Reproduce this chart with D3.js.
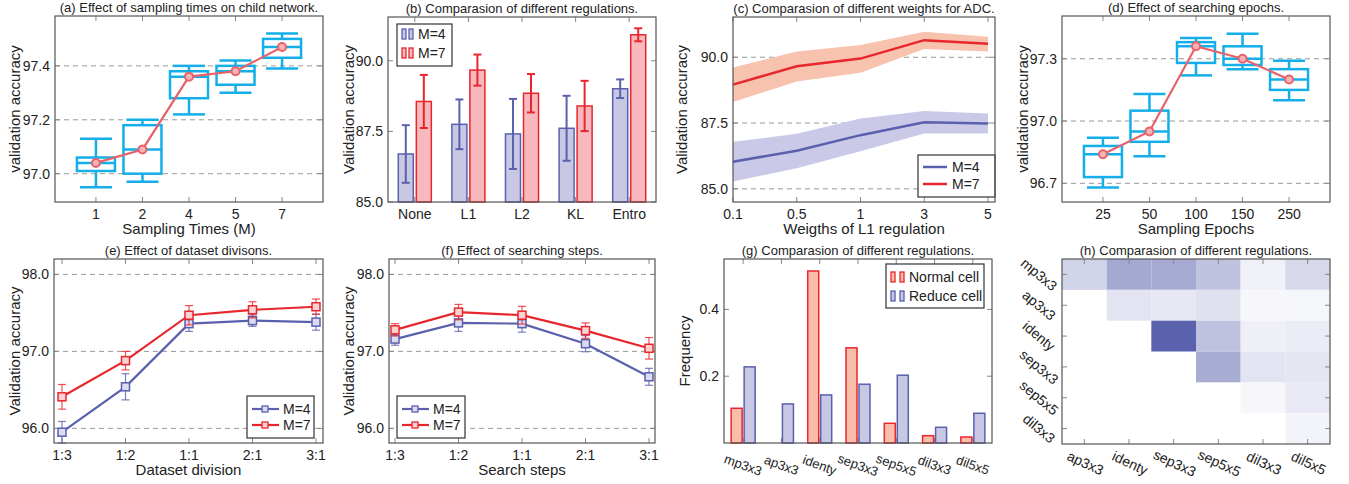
<!DOCTYPE html>
<html>
<head>
<meta charset="utf-8">
<script src="https://cdn.jsdelivr.net/npm/d3@7"></script>
<style>
body { margin: 0; background: #fff; }
text { font-family: "Liberation Sans", Arial, sans-serif; fill: #222; }
</style>
</head>
<body>
<svg width="1349" height="484"></svg>
<script>
// ---------- data ----------
// (a) sampling times
var samplingTimes = ["1", "2", "4", "5", "7"];
var samplingLow = [96.95, 96.97, 97.22, 97.30, 97.39];
var samplingQ1 = [97.01, 97.00, 97.28, 97.33, 97.43];
var samplingMedian = [97.04, 97.09, 97.36, 97.38, 97.47];
var samplingQ3 = [97.06, 97.18, 97.38, 97.40, 97.50];
var samplingHigh = [97.13, 97.20, 97.40, 97.42, 97.52];
var samplingMean = [97.04, 97.09, 97.36, 97.38, 97.47];

// (b) regulations
var regulations = ["None", "L1", "L2", "KL", "Entro"];
var regM4 = [86.70, 87.75, 87.41, 87.61, 89.01];
var regM4Err = [1.02, 0.88, 1.24, 1.15, 0.33];
var regM7 = [88.56, 89.67, 88.85, 88.40, 90.92];
var regM7Err = [0.94, 0.55, 0.68, 0.89, 0.23];

// (c) weights for ADC
var weights = ["0.1", "0.5", "1", "3", "5"];
var weightM4 = [86.03, 86.45, 87.04, 87.53, 87.48];
var weightM4Lo = [85.28, 85.78, 86.43, 87.10, 87.10];
var weightM4Hi = [86.79, 87.09, 87.67, 87.96, 87.86];
var weightM7 = [88.96, 89.66, 89.95, 90.65, 90.51];
var weightM7Lo = [88.30, 89.08, 89.41, 90.31, 90.22];
var weightM7Hi = [89.61, 90.22, 90.47, 90.97, 90.78];

// (d) searching epochs
var epochs = ["25", "50", "100", "150", "250"];
var epochLow = [96.68, 96.83, 97.22, 97.25, 97.10];
var epochQ1 = [96.73, 96.90, 97.28, 97.27, 97.15];
var epochMedian = [96.84, 96.95, 97.36, 97.30, 97.20];
var epochQ3 = [96.88, 97.05, 97.38, 97.36, 97.25];
var epochHigh = [96.92, 97.13, 97.40, 97.42, 97.29];
var epochMean = [96.84, 96.95, 97.36, 97.30, 97.20];

// (e) dataset divisions
var divisions = ["1:3", "1:2", "1:1", "2:1", "3:1"];
var divM4 = [95.95, 96.54, 97.36, 97.40, 97.38];
var divM4Err = [0.14, 0.17, 0.10, 0.075, 0.105];
var divM7 = [96.41, 96.88, 97.47, 97.54, 97.58];
var divM7Err = [0.16, 0.12, 0.125, 0.105, 0.10];

// (f) searching steps
var steps = ["1:3", "1:2", "1:1", "2:1", "3:1"];
var stepM4 = [97.16, 97.37, 97.36, 97.10, 96.67];
var stepM4Err = [0.08, 0.11, 0.11, 0.105, 0.11];
var stepM7 = [97.28, 97.51, 97.47, 97.27, 97.04];
var stepM7Err = [0.08, 0.10, 0.115, 0.10, 0.14];

// (g) operation frequency
var operations = ["mp3x3", "ap3x3", "identy", "sep3x3", "sep5x5", "dil3x3", "dil5x5"];
var normalFreq = [0.104, 0.0, 0.515, 0.285, 0.059, 0.022, 0.018];
var reduceFreq = [0.228, 0.117, 0.144, 0.176, 0.203, 0.047, 0.089];

// (h) co-occurrence
var heatCols = ["ap3x3", "identy", "sep3x3", "sep5x5", "dil3x3", "dil5x5"];
var heatRows = ["mp3x3", "ap3x3", "identy", "sep3x3", "sep5x5", "dil3x3"];
var heatValues = [
  [0.28, 0.55, 0.54, 0.38, 0.09, 0.24],
  [null, 0.17, 0.15, 0.19, 0.05, 0.06],
  [null, null, 1.00, 0.39, 0.10, 0.12],
  [null, null, null, 0.52, 0.17, 0.16],
  [null, null, null, null, 0.05, 0.14],
  [null, null, null, null, null, 0.07]
];

// ---------- style ----------
var svg = d3.select("svg");
var frameColor = "#555";
var tickColor = "#888";
var gridColor = "#999";
var boxBlue = "#14aee8";
var meanRed = "#e8626a";
var blueLine = "#5a60ae";
var blueFill = "#c8c8e5";
var redLine = "#e8262d";
var redFill = "#f7b9bd";
var peachFill = "#f9bea9";

function panel(left, right, top, bottom, title) {
  var p = { left: left, right: right, top: top, bottom: bottom };
  p.g = svg.append("g");
  p.g.append("text")
    .attr("x", (left + right) / 2)
    .attr("y", top - 4)
    .attr("text-anchor", "middle")
    .attr("font-size", 13)
    .text(title);
  return p;
}

function frame(p) {
  p.g.append("rect")
    .attr("x", p.left).attr("y", p.top)
    .attr("width", p.right - p.left).attr("height", p.bottom - p.top)
    .attr("fill", "none").attr("stroke", frameColor).attr("stroke-width", 1.2);
}

function yAxis(p, y, values, fmt, grid) {
  values.forEach(function (v) {
    var yy = y(v);
    if (grid) {
      p.g.append("line")
        .attr("x1", p.left).attr("x2", p.right).attr("y1", yy).attr("y2", yy)
        .attr("stroke", gridColor).attr("stroke-dasharray", "5,4");
    }
    p.g.append("line").attr("x1", p.left).attr("x2", p.left + 5).attr("y1", yy).attr("y2", yy)
      .attr("stroke", tickColor);
    p.g.append("line").attr("x1", p.right - 5).attr("x2", p.right).attr("y1", yy).attr("y2", yy)
      .attr("stroke", tickColor);
    p.g.append("text")
      .attr("x", p.left - 5).attr("y", yy)
      .attr("dy", "0.35em").attr("text-anchor", "end").attr("font-size", 14)
      .text(fmt(v));
  });
}

function xAxis(p, positions, labels, noLabels) {
  positions.forEach(function (xx, i) {
    p.g.append("line").attr("x1", xx).attr("x2", xx).attr("y1", p.bottom - 5).attr("y2", p.bottom)
      .attr("stroke", tickColor);
    p.g.append("line").attr("x1", xx).attr("x2", xx).attr("y1", p.top).attr("y2", p.top + 5)
      .attr("stroke", tickColor);
    if (!noLabels) {
      p.g.append("text")
        .attr("x", xx).attr("y", p.bottom + 17)
        .attr("text-anchor", "middle").attr("font-size", 14)
        .text(labels[i]);
    }
  });
}

function axisTitles(p, xLabel, yLabel, yLabelX) {
  if (xLabel) {
    p.g.append("text")
      .attr("x", (p.left + p.right) / 2).attr("y", p.bottom + 32)
      .attr("text-anchor", "middle").attr("font-size", 15)
      .text(xLabel);
  }
  p.g.append("text")
    .attr("transform", "translate(" + yLabelX + "," + (p.top + p.bottom) / 2 + ") rotate(-90)")
    .attr("text-anchor", "middle").attr("dy", "0.35em").attr("font-size", 15)
    .text(yLabel);
}

function legendBox(p, x, y, w, h) {
  p.g.append("rect").attr("x", x).attr("y", y).attr("width", w).attr("height", h)
    .attr("fill", "#fff").attr("stroke", "#333").attr("stroke-width", 1.2);
}

function legendText(p, x, y, label) {
  p.g.append("text").attr("x", x).attr("y", y).attr("dy", "0.35em")
    .attr("font-size", 14).text(label);
}

// box plot + mean line, used by (a) and (d)
function boxPanel(p, cats, low, q1, med, q3, high, mean, y) {
  var x = d3.scalePoint().domain(cats).range([p.left, p.right]).padding(0.88);
  var bw = 38, cw = 32;
  cats.forEach(function (c, i) {
    var cx = x(c);
    var g = p.g.append("g").attr("stroke", boxBlue).attr("stroke-width", 2.5).attr("fill", "none");
    g.append("line").attr("x1", cx).attr("x2", cx).attr("y1", y(high[i])).attr("y2", y(q3[i]));
    g.append("line").attr("x1", cx).attr("x2", cx).attr("y1", y(q1[i])).attr("y2", y(low[i]));
    g.append("line").attr("x1", cx - cw / 2).attr("x2", cx + cw / 2).attr("y1", y(high[i])).attr("y2", y(high[i]));
    g.append("line").attr("x1", cx - cw / 2).attr("x2", cx + cw / 2).attr("y1", y(low[i])).attr("y2", y(low[i]));
    g.append("rect").attr("x", cx - bw / 2).attr("y", y(q3[i]))
      .attr("width", bw).attr("height", y(q1[i]) - y(q3[i]));
    g.append("line").attr("x1", cx - bw / 2).attr("x2", cx + bw / 2).attr("y1", y(med[i])).attr("y2", y(med[i]));
  });
  var line = d3.line().x(function (d, i) { return x(cats[i]); }).y(function (d) { return y(d); });
  p.g.append("path").datum(mean).attr("d", line)
    .attr("fill", "none").attr("stroke", meanRed).attr("stroke-width", 2.2);
  p.g.selectAll(null).data(mean).join("circle")
    .attr("cx", function (d, i) { return x(cats[i]); })
    .attr("cy", function (d) { return y(d); })
    .attr("r", 4).attr("fill", "#f7b3b6").attr("stroke", meanRed).attr("stroke-width", 2);
  return x;
}

// ---------- (a) ----------
var pa = panel(55, 323, 16, 202, "(a) Effect of sampling times on child network.");
var ya = d3.scaleLinear().domain([96.895, 97.585]).range([202, 16]);
yAxis(pa, ya, [97.0, 97.2, 97.4], d3.format(".1f"), true);
var xa = d3.scalePoint().domain(samplingTimes).range([55, 323]).padding(0.88);
xAxis(pa, samplingTimes.map(function (c) { return xa(c); }), samplingTimes);
boxPanel(pa, samplingTimes, samplingLow, samplingQ1, samplingMedian, samplingQ3, samplingHigh, samplingMean, ya);
axisTitles(pa, "Sampling Times (M)", "validation accuracy", 15);
frame(pa);

// ---------- (b) ----------
var pb = panel(388, 656, 17, 202, "(b) Comparasion of different regulations.");
var yb = d3.scaleLinear().domain([85.0, 91.55]).range([202, 17]);
var xb = d3.scaleBand().domain(regulations).range([388, 656]);
var xbInner = d3.scaleBand().domain(["M=4", "M=7"]).range([0, xb.bandwidth()])
  .paddingInner(0.167).paddingOuter(0.57);
yAxis(pb, yb, [85.0, 87.5, 90.0], d3.format(".1f"), false);
xAxis(pb, regulations.map(function (c) { return xb(c) + xb.bandwidth() / 2; }), regulations);
var bSeries = [
  { key: "M=4", vals: regM4, errs: regM4Err, line: blueLine, fill: blueFill },
  { key: "M=7", vals: regM7, errs: regM7Err, line: redLine, fill: redFill }
];
bSeries.forEach(function (s) {
  regulations.forEach(function (c, i) {
    var bx = xb(c) + xbInner(s.key);
    pb.g.append("rect")
      .attr("x", bx).attr("y", yb(s.vals[i]))
      .attr("width", xbInner.bandwidth()).attr("height", yb(85) - yb(s.vals[i]))
      .attr("fill", s.fill).attr("stroke", s.line).attr("stroke-width", 1.5);
  });
});
bSeries.forEach(function (s) {
  regulations.forEach(function (c, i) {
    var cx = xb(c) + xbInner(s.key) + xbInner.bandwidth() / 2;
    var g = pb.g.append("g").attr("stroke", s.line).attr("stroke-width", 2);
    g.append("line").attr("x1", cx).attr("x2", cx)
      .attr("y1", yb(s.vals[i] + s.errs[i])).attr("y2", yb(s.vals[i] - s.errs[i]));
    g.append("line").attr("x1", cx - 4).attr("x2", cx + 4)
      .attr("y1", yb(s.vals[i] + s.errs[i])).attr("y2", yb(s.vals[i] + s.errs[i]));
    g.append("line").attr("x1", cx - 4).attr("x2", cx + 4)
      .attr("y1", yb(s.vals[i] - s.errs[i])).attr("y2", yb(s.vals[i] - s.errs[i]));
  });
});
legendBox(pb, 397, 24, 55, 42);
bSeries.forEach(function (s, i) {
  var ly = 34 + i * 19;
  [402, 409].forEach(function (lx) {
    pb.g.append("rect").attr("x", lx).attr("y", ly - 5).attr("width", 4).attr("height", 10)
      .attr("fill", s.fill).attr("stroke", s.line).attr("stroke-width", 1.3);
  });
  legendText(pb, 418, ly, s.key);
});
axisTitles(pb, null, "Validation accuracy", 349);
frame(pb);

// ---------- (c) ----------
var pc = panel(733, 995, 17, 202, "(c) Comparasion of different weights for ADC.");
var yc = d3.scaleLinear().domain([84.5, 91.53]).range([202, 17]);
var xc = d3.scalePoint().domain(weights).range([733, 988]);
yAxis(pc, yc, [85.0, 87.5, 90.0], d3.format(".1f"), true);
xAxis(pc, weights.map(function (c) { return xc(c); }), weights);
var cSeries = [
  { key: "M=4", mid: weightM4, lo: weightM4Lo, hi: weightM4Hi, line: blueLine, fill: "#cacae8" },
  { key: "M=7", mid: weightM7, lo: weightM7Lo, hi: weightM7Hi, line: redLine, fill: "#f8c3ae" }
];
cSeries.forEach(function (s) {
  var area = d3.area()
    .x(function (d, i) { return xc(weights[i]); })
    .y0(function (d, i) { return yc(s.lo[i]); })
    .y1(function (d, i) { return yc(s.hi[i]); });
  pc.g.append("path").datum(s.mid).attr("d", area).attr("fill", s.fill);
  var line = d3.line().x(function (d, i) { return xc(weights[i]); }).y(function (d) { return yc(d); });
  pc.g.append("path").datum(s.mid).attr("d", line)
    .attr("fill", "none").attr("stroke", s.line).attr("stroke-width", 2.5);
});
legendBox(pc, 918, 155, 77, 42);
cSeries.forEach(function (s, i) {
  var ly = 167 + i * 17;
  pc.g.append("line").attr("x1", 923).attr("x2", 947).attr("y1", ly).attr("y2", ly)
    .attr("stroke", s.line).attr("stroke-width", 2.5);
  legendText(pc, 952, ly, s.key);
});
axisTitles(pc, "Weigths of L1 regulation", "Validation accuracy", 682);
frame(pc);

// ---------- (d) ----------
var pd = panel(1062, 1330, 16, 202, "(d) Effect of searching epochs.");
var yd = d3.scaleLinear().domain([96.61, 97.506]).range([202, 16]);
yAxis(pd, yd, [96.7, 97.0, 97.3], d3.format(".1f"), true);
var xd = d3.scalePoint().domain(epochs).range([1062, 1330]).padding(0.88);
xAxis(pd, epochs.map(function (c) { return xd(c); }), epochs);
boxPanel(pd, epochs, epochLow, epochQ1, epochMedian, epochQ3, epochHigh, epochMean, yd);
axisTitles(pd, "Sampling Epochs", "validation accuracy", 1023);
frame(pd);

// ---------- (e) and (f): lines with error bars ----------
function errorLinePanel(p, cats, xr, series, legendX, legendY, legendW) {
  var y = d3.scaleLinear().domain([95.81, 98.2]).range([p.bottom, p.top]);
  var x = d3.scalePoint().domain(cats).range(xr);
  yAxis(p, y, [96.0, 97.0, 98.0], d3.format(".1f"), true);
  xAxis(p, cats.map(function (c) { return x(c); }), cats);
  series.forEach(function (s) {
    var line = d3.line().x(function (d, i) { return x(cats[i]); }).y(function (d) { return y(d); });
    p.g.append("path").datum(s.vals).attr("d", line)
      .attr("fill", "none").attr("stroke", s.line).attr("stroke-width", 2.2);
    cats.forEach(function (c, i) {
      var cx = x(c);
      var g = p.g.append("g").attr("stroke", s.line).attr("stroke-width", 1.2).attr("stroke-opacity", 0.8);
      var top = y(s.vals[i] + s.errs[i]), bot = y(s.vals[i] - s.errs[i]);
      g.append("line").attr("x1", cx).attr("x2", cx).attr("y1", top).attr("y2", bot);
      g.append("line").attr("x1", cx - 4).attr("x2", cx + 4).attr("y1", top).attr("y2", top);
      g.append("line").attr("x1", cx - 4).attr("x2", cx + 4).attr("y1", bot).attr("y2", bot);
    });
    p.g.selectAll(null).data(s.vals).join("rect")
      .attr("x", function (d, i) { return x(cats[i]) - 4; })
      .attr("y", function (d) { return y(d) - 4; })
      .attr("width", 8).attr("height", 8)
      .attr("fill", s.mark).attr("stroke", s.line).attr("stroke-width", 1.5);
  });
  legendBox(p, legendX, legendY, legendW, 42);
  series.forEach(function (s, i) {
    var ly = legendY + 13 + i * 16;
    p.g.append("line").attr("x1", legendX + 5).attr("x2", legendX + 32).attr("y1", ly).attr("y2", ly)
      .attr("stroke", s.line).attr("stroke-width", 2.2);
    p.g.append("rect").attr("x", legendX + 15).attr("y", ly - 3).attr("width", 6).attr("height", 6)
      .attr("fill", s.mark).attr("stroke", s.line).attr("stroke-width", 1.3);
    legendText(p, legendX + 36, ly, s.key);
  });
}

var pe = panel(54, 323, 259, 443, "(e) Effect of dataset divisons.");
errorLinePanel(pe, divisions, [62, 316], [
  { key: "M=4", vals: divM4, errs: divM4Err, line: blueLine, mark: "#dcdcf0" },
  { key: "M=7", vals: divM7, errs: divM7Err, line: redLine, mark: "#fbd3d3" }
], 247, 396, 67);
axisTitles(pe, "Dataset division", "Validation accuracy", 15);
frame(pe);

var pf = panel(389, 655, 259, 443, "(f) Effect of searching steps.");
errorLinePanel(pf, steps, [395, 649], [
  { key: "M=4", vals: stepM4, errs: stepM4Err, line: blueLine, mark: "#dcdcf0" },
  { key: "M=7", vals: stepM7, errs: stepM7Err, line: redLine, mark: "#fbd3d3" }
], 397, 396, 68);
axisTitles(pf, "Search steps", "Validation accuracy", 349);
frame(pf);

// ---------- (g) ----------
var pg = panel(724, 992, 259, 443, "(g) Comparasion of different regulations.");
var yg = d3.scaleLinear().domain([0, 0.551]).range([443, 259]);
var xg = d3.scaleBand().domain(operations).range([724, 992]);
var xgInner = d3.scaleBand().domain(["Normal cell", "Reduce cell"]).range([0, xg.bandwidth()])
  .paddingInner(0.154).paddingOuter(0.55);
yAxis(pg, yg, [0.2, 0.4], d3.format(".1f"), false);
xAxis(pg, operations.map(function (c) { return xg(c) + xg.bandwidth() / 2; }), operations, true);
var gSeries = [
  { key: "Normal cell", vals: normalFreq, line: redLine, fill: peachFill },
  { key: "Reduce cell", vals: reduceFreq, line: blueLine, fill: blueFill }
];
gSeries.forEach(function (s) {
  operations.forEach(function (c, i) {
    pg.g.append("rect")
      .attr("x", xg(c) + xgInner(s.key)).attr("y", yg(s.vals[i]))
      .attr("width", xgInner.bandwidth()).attr("height", yg(0) - yg(s.vals[i]))
      .attr("fill", s.fill).attr("stroke", s.line).attr("stroke-width", 1.5);
  });
});
operations.forEach(function (c) {
  var cx = xg(c) + xg.bandwidth() / 2;
  pg.g.append("text")
    .attr("transform", "translate(" + cx + "," + 465 + ") rotate(20)")
    .attr("text-anchor", "middle").attr("dy", "0.35em").attr("font-size", 13)
    .text(c);
});
legendBox(pg, 886, 264, 98, 44);
gSeries.forEach(function (s, i) {
  var ly = 277 + i * 19;
  [891, 900].forEach(function (lx) {
    pg.g.append("rect").attr("x", lx).attr("y", ly - 5).attr("width", 4).attr("height", 10)
      .attr("fill", s.fill).attr("stroke", s.line).attr("stroke-width", 1.3);
  });
  legendText(pg, 909, ly, s.key);
});
axisTitles(pg, null, "Frequency", 685);
frame(pg);

// ---------- (h) ----------
var ph = panel(1062, 1330, 259, 444, "(h) Comparasion of different regulations.");
var xh = d3.scaleBand().domain(heatCols).range([1062, 1330]);
var yh = d3.scaleBand().domain(heatRows).range([259, 444]);
var heatColor = d3.interpolateRgb("#ffffff", "#5a62ad");
heatRows.forEach(function (r, ri) {
  heatCols.forEach(function (c, ci) {
    var v = heatValues[ri][ci];
    if (v === null) return;
    ph.g.append("rect")
      .attr("x", xh(c)).attr("y", yh(r))
      .attr("width", xh.bandwidth()).attr("height", yh.bandwidth())
      .attr("fill", heatColor(v));
  });
});
heatCols.forEach(function (c) {
  var cx = xh(c) + xh.bandwidth() / 2;
  ph.g.append("line").attr("x1", cx).attr("x2", cx).attr("y1", 439).attr("y2", 444).attr("stroke", tickColor);
  ph.g.append("line").attr("x1", cx).attr("x2", cx).attr("y1", 259).attr("y2", 264).attr("stroke", tickColor);
  ph.g.append("text")
    .attr("transform", "translate(" + (cx + 1) + "," + 463 + ") rotate(25)")
    .attr("text-anchor", "middle").attr("dy", "0.35em").attr("font-size", 14)
    .text(c);
});
heatRows.forEach(function (r) {
  var cy = yh(r) + yh.bandwidth() / 2;
  ph.g.append("line").attr("x1", 1062).attr("x2", 1067).attr("y1", cy).attr("y2", cy).attr("stroke", tickColor);
  ph.g.append("line").attr("x1", 1325).attr("x2", 1330).attr("y1", cy).attr("y2", cy).attr("stroke", tickColor);
  ph.g.append("text")
    .attr("transform", "translate(" + 1039 + "," + cy + ") rotate(40)")
    .attr("text-anchor", "middle").attr("dy", "0.35em").attr("font-size", 14)
    .text(r);
});
frame(ph);
</script>
</body>
</html>
